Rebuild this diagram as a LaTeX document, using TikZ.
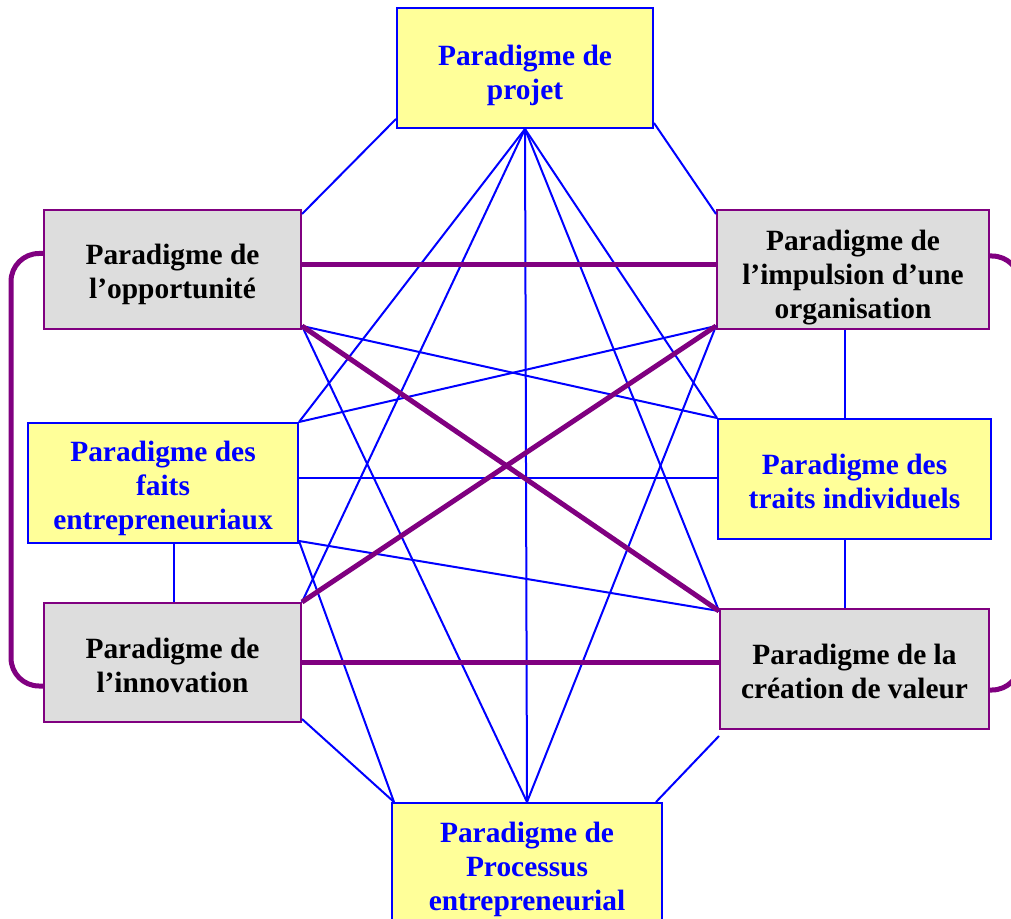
\documentclass[tikz,border=0pt]{standalone}
\usepackage{fontspec}
\setmainfont{Liberation Serif}
\definecolor{boxyellow}{HTML}{FFFF99}
\definecolor{boxgray}{HTML}{DDDDDD}
\definecolor{linkblue}{HTML}{0000FF}
\definecolor{linkpurple}{HTML}{800080}
\begin{document}
\begin{tikzpicture}[x=0.5pt,y=-0.5pt,
  para/.style={draw, line width=1pt, inner sep=0pt},
  yellowbox/.style={para, draw=linkblue, fill=boxyellow},
  graybox/.style={para, draw=linkpurple, fill=boxgray},
  boxtext/.style={align=center, inner sep=0pt,
    font=\fontsize{14.7}{17}\selectfont\bfseries},
  bluetext/.style={boxtext, text=linkblue},
  blacktext/.style={boxtext, text=black},
  thinlink/.style={draw=linkblue, line width=1pt},
  thicklink/.style={draw=linkpurple, line width=2.5pt},
  bracket/.style={draw=linkpurple, line width=2.5pt, rounded corners=14pt},
]
\useasboundingbox (0,0) rectangle (1011,919);
\clip (0,0) rectangle (1011,919);

% boxes
\node[yellowbox, minimum width=128pt, minimum height=60pt] (P) at (525,68) {};
\node[graybox, minimum width=128.5pt, minimum height=59.5pt] (O) at (172.5,269.5) {};
\node[graybox, minimum width=136pt, minimum height=59.5pt] (I) at (853,269.5) {};
\node[yellowbox, minimum width=135pt, minimum height=60pt] (F) at (163,483) {};
\node[yellowbox, minimum width=136.5pt, minimum height=60pt] (T) at (854.5,479) {};
\node[graybox, minimum width=128.5pt, minimum height=59.5pt] (N) at (172.5,662.5) {};
\node[graybox, minimum width=134.5pt, minimum height=60pt] (C) at (854.5,669) {};
\node[yellowbox, minimum width=135pt, minimum height=64.5pt] (B) at (527,867.5) {};

% box texts
\node[bluetext, yshift=-3.5pt] (Pt) at (P.center) {Paradigme de\\projet};
\node[blacktext, yshift=-2.5pt] (Ot) at (O.center) {Paradigme de\\l’opportunité};
\node[blacktext, yshift=-4pt] (It) at (I.center) {Paradigme de\\l’impulsion d’une\\organisation};
\node[bluetext, yshift=-2.75pt] (Ft) at (F.center) {Paradigme des\\faits\\entrepreneuriaux};
\node[bluetext, yshift=-1pt] (Tt) at (T.center) {Paradigme des\\traits individuels};
\node[blacktext, yshift=-1.5pt] (Nt) at (N.center) {Paradigme de\\l’innovation};
\node[blacktext, yshift=-1pt] (Ct) at (C.center) {Paradigme de la\\création de valeur};
\node[bluetext, yshift=-1pt] (Bt) at (B.center) {Paradigme de\\Processus\\entrepreneurial};

% thin blue links
\draw[thinlink] ([yshift=5pt]P.south west) -- ([yshift=-2.5pt]O.north east);
\draw[thinlink] ([yshift=3pt]P.south east) -- ([yshift=-2.5pt]I.north west);
\draw[thinlink] (P.south) -- (F.north east);
\draw[thinlink] (P.south) -- (N.north east);
\draw[thinlink] (P.south) -- (B.north);
\draw[thinlink] (P.south) -- (T.north west);
\draw[thinlink] (P.south) -- ([yshift=-1.5pt]C.north west);
\draw[thinlink] ([yshift=2pt]O.south east) -- (T.north west);
\draw[thinlink] ([yshift=2pt]O.south east) -- (B.north);
\draw[thinlink] ([yshift=2pt]I.south west) -- (F.north east);
\draw[thinlink] ([yshift=2pt]I.south west) -- (B.north);
\draw[thinlink] ([yshift=2.5pt]F.east) -- ([yshift=2.5pt]F.east -| T.west);
\draw[thinlink] ([yshift=1.5pt]F.south east) -- ([yshift=-1.5pt]C.north west);
\draw[thinlink] ([yshift=1.5pt]F.south east) -- ([xshift=1.5pt]B.north west);
\draw[thinlink] ([xshift=5.5pt]F.south) -- ([xshift=5.5pt]F.south |- N.north);
\draw[thinlink] ([xshift=-4pt]I.south) -- ([xshift=-4pt]I.south |- T.north);
\draw[thinlink] ([xshift=-5pt]T.south) -- ([xshift=-5pt]T.south |- C.north);
\draw[thinlink] ([yshift=2pt]N.south east) -- ([xshift=1.5pt]B.north west);
\draw[thinlink] ([yshift=-3pt]C.south west) -- ([xshift=-3.5pt]B.north east);

% thick purple links
\draw[thicklink] ([yshift=2.25pt]O.east) -- ([yshift=2.25pt]O.east -| I.west);
\draw[thicklink] ([yshift=2pt]O.south east) -- ([yshift=-1.5pt]C.north west);
\draw[thicklink] ([yshift=2pt]I.south west) -- (N.north east);
\draw[thicklink] (N.east) -- (N.east -| C.west);

% brackets
\draw[bracket] ([yshift=8pt]O.west) -- ++(-16pt,0) |- ([yshift=-11.75pt]N.west);
\draw[bracket] ([yshift=6.75pt]I.east) -- ++(15pt,0) |- ([yshift=-10.5pt]C.east);
\end{tikzpicture}
\end{document}
